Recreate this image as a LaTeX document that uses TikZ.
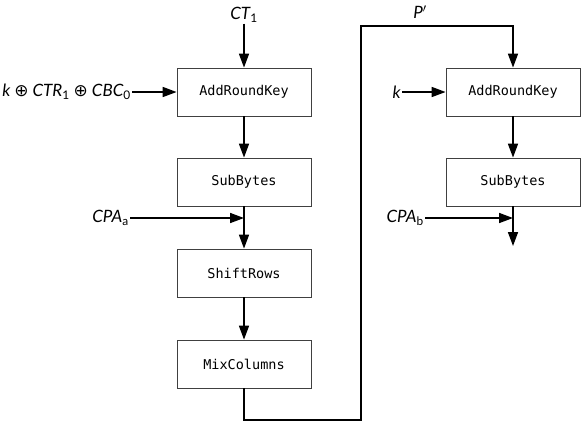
\documentclass[tikz,border=0pt]{standalone}
\usepackage{fontspec}
\setmainfont{Lato}
\newfontfamily\boxfont{DejaVu Sans Mono}
\newfontfamily\symfont{DejaVu Sans}
\usetikzlibrary{arrows.meta}
\newcommand{\xor}{{\upshape\symfont\char"2295}}
\newcommand{\sub}[1]{\textsubscript{\upshape #1}}

\begin{document}
\begin{tikzpicture}[x=1pt,y=-1pt]
\tikzstyle{stage}=[draw=black!75, line width=0.8pt, minimum width=134pt, minimum height=48pt, inner sep=0pt, font=\boxfont\fontsize{13.5}{15}\selectfont];
\tikzstyle{lbl}=[inner sep=1pt, font=\itshape\fontsize{17}{19}\selectfont];
\tikzstyle{wire}=[line width=1.6pt, -{Triangle[length=14pt,width=10pt]}];
\useasboundingbox (0,0) rectangle (581,424);
   % first round
   \node[stage] (ark1) at (244,92) {AddRoundKey};
   \node[stage] (sb1) at (244,182) {SubBytes};
   \node[stage] (sr1) at (244,273) {ShiftRows};
   \node[stage] (mc1) at (244,364) {MixColumns};
   \node[lbl] (ct) at (244,15) {CT\sub{1}};
   \node[lbl, anchor=east] (key1) at (132,92) {k \xor{} CTR\sub{1} \xor{} CBC\sub{0}};
   \node[lbl, anchor=east] (cpaa) at (130,218) {CPA\sub{a}};
   \coordinate (ja) at (244,218);
   % second round
   \node[stage] (ark2) at (513,92) {AddRoundKey};
   \node[stage] (sb2) at (513,182) {SubBytes};
   \node[lbl] (pp) at (420,12) {P$'$};
   \node[lbl, anchor=east] (key2) at (402,92) {k};
   \node[lbl, anchor=east] (cpab) at (425,218) {CPA\sub{b}};
   \coordinate (jb) at (513,218);
   \coordinate (out) at (513,246);
   \coordinate (c2) at (361,420);
   \coordinate (c3) at (361,26);
  \foreach \from/\to in {ct/ark1,key1/ark1,ark1/sb1,sb1/sr1,cpaa/ja,sr1/mc1,ark2/sb2,key2/ark2,cpab/jb}
    \draw[wire] (\from) -- (\to);
   \draw[wire] (sb2.south) -- (out);
   \draw[wire] (mc1.south) |- (c2) -- (c3) -| (ark2.north);
\end{tikzpicture}
\end{document}
